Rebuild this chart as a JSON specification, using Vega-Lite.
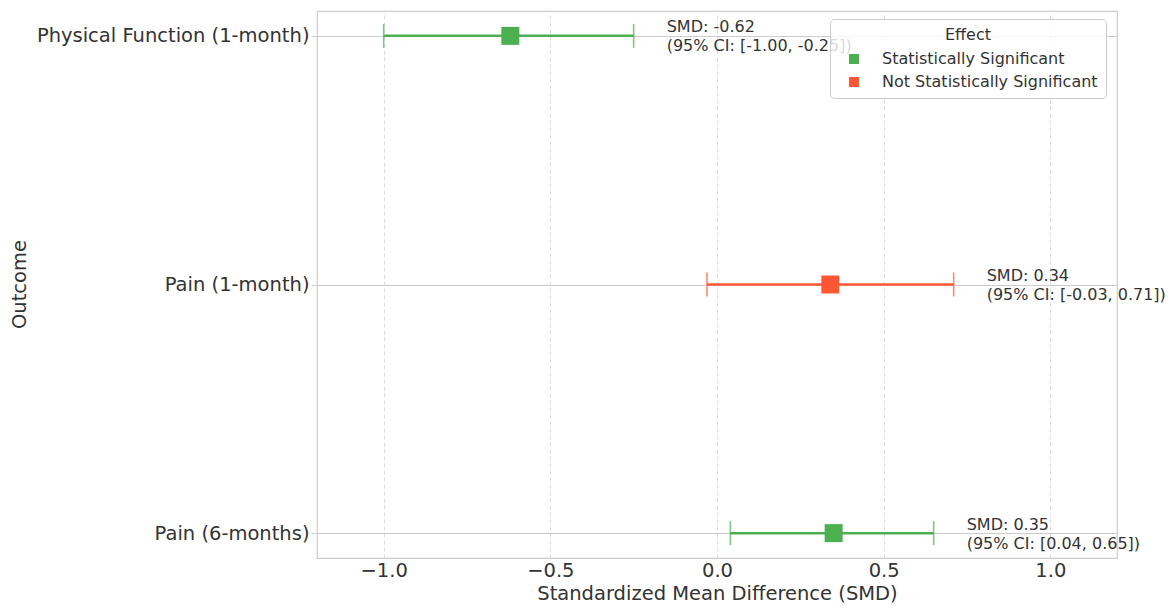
{
  "$schema": "https://vega.github.io/schema/vega-lite/v6.json",
  "width": 800,
  "height": 547,
  "autosize": {"type": "none"},
  "padding": {"left": 317, "top": 11, "right": 52, "bottom": 50},
  "background": "white",
  "config": {
    "font": "DejaVu Sans",
    "view": {"stroke": "#cccccc", "strokeWidth": 1.2},
    "axis": {"labelColor": "#333333", "titleColor": "#333333", "labelFontSize": 19.5, "titleFontSize": 19.5, "titleFontWeight": "normal", "domain": false, "tickColor": "#cccccc", "tickSize": 6, "labelLimit": 400}
  },
  "data": {
    "values": [
      {"outcome": "Physical Function (1-month)", "smd": -0.62, "lower": -1.00, "upper": -0.25, "effect": "Statistically Significant", "label": "SMD: -0.62\n(95% CI: [-1.00, -0.25])"},
      {"outcome": "Pain (1-month)", "smd": 0.34, "lower": -0.03, "upper": 0.71, "effect": "Not Statistically Significant", "label": "SMD: 0.34\n(95% CI: [-0.03, 0.71])"},
      {"outcome": "Pain (6-months)", "smd": 0.35, "lower": 0.04, "upper": 0.65, "effect": "Statistically Significant", "label": "SMD: 0.35\n(95% CI: [0.04, 0.65])"}
    ]
  },
  "encoding": {
    "y": {
      "field": "outcome", "type": "nominal",
      "sort": ["Physical Function (1-month)", "Pain (1-month)", "Pain (6-months)"],
      "scale": {"type": "point", "padding": 0.1},
      "axis": {"title": "Outcome", "grid": true, "gridColor": "#cccccc", "gridWidth": 1, "labelPadding": 2, "titleX": -288, "titleY": 273, "titleAngle": -90, "titleBaseline": "bottom", "titleAlign": "center"}
    }
  },
  "layer": [
    {
      "mark": {"type": "rule", "strokeWidth": 2.5},
      "encoding": {
        "x": {
          "field": "lower", "type": "quantitative",
          "scale": {"domain": [-1.2, 1.2], "nice": false, "zero": false},
          "axis": {"title": "Standardized Mean Difference (SMD)", "values": [-1, -0.5, 0, 0.5, 1], "format": ".1f", "grid": true, "gridColor": "#dddddd", "gridDash": [4, 3], "gridWidth": 1, "ticks": false, "labelPadding": 3, "titlePadding": 5}
        },
        "x2": {"field": "upper"},
        "color": {
          "field": "effect", "type": "nominal",
          "scale": {"domain": ["Statistically Significant", "Not Statistically Significant"], "range": ["#4CAF50", "#FF5733"]},
          "legend": {
            "title": "Effect", "orient": "none", "legendX": 513, "legendY": 8,
            "symbolType": "square", "symbolSize": 100, "symbolStrokeWidth": 0, "symbolOpacity": 1, "symbolOffset": 8,
            "labelFontSize": 16, "titleFontSize": 16, "titleFontWeight": "normal", "labelLimit": 400,
            "labelColor": "#333333", "titleColor": "#333333",
            "titleAlign": "center", "titleAnchor": "middle",
            "fillColor": "rgba(255,255,255,0.82)", "strokeColor": "#cccccc", "cornerRadius": 4,
            "padding": 8, "rowPadding": 7, "labelOffset": 20, "offset": 0,
            "titlePadding": 8,
            "encode": {"symbols": {"update": {"opacity": {"value": 1}, "fillOpacity": {"value": 1}}}}
          }
        }
      }
    },
    {
      "mark": {"type": "tick", "orient": "vertical", "size": 24, "thickness": 1.6},
      "encoding": {"x": {"field": "lower", "type": "quantitative"}, "color": {"field": "effect", "type": "nominal"}}
    },
    {
      "mark": {"type": "tick", "orient": "vertical", "size": 24, "thickness": 1.6},
      "encoding": {"x": {"field": "upper", "type": "quantitative"}, "color": {"field": "effect", "type": "nominal"}}
    },
    {
      "mark": {"type": "point", "shape": "square", "filled": true, "size": 324, "opacity": 1},
      "encoding": {"x": {"field": "smd", "type": "quantitative"}, "color": {"field": "effect", "type": "nominal"}}
    },
    {
      "mark": {"type": "text", "align": "left", "baseline": "middle", "dx": 33, "dy": -8.5, "fontSize": 16, "color": "#333333", "lineBreak": "\n", "lineHeight": 19},
      "encoding": {"x": {"field": "upper", "type": "quantitative"}, "text": {"field": "label"}}
    },
    {
      "mark": {"type": "rule", "color": "black", "strokeWidth": 2.5, "strokeDash": [7, 4]},
      "encoding": {"x": {"datum": 0}}
    }
  ]
}
